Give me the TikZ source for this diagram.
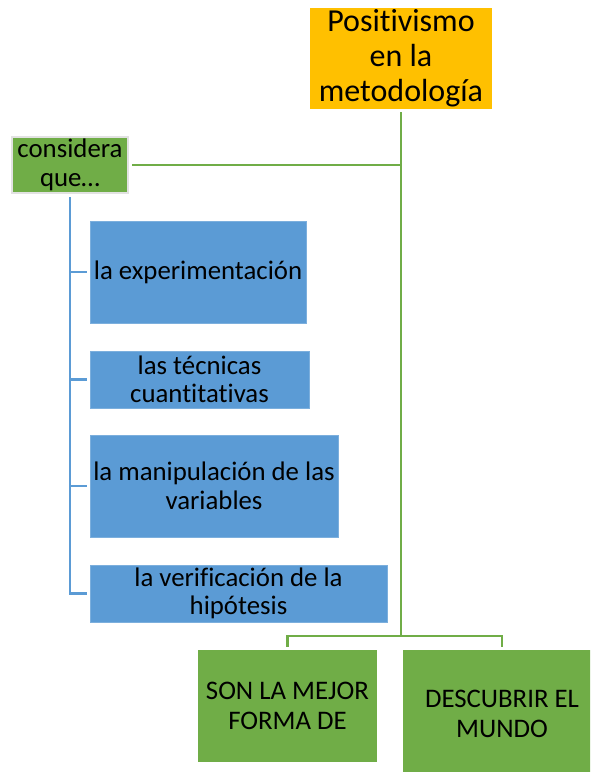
\documentclass[tikz,border=0pt]{standalone}
\usepackage{fontspec}
\setmainfont{Carlito}[Ligatures=NoCommon]
\usetikzlibrary{positioning,calc}
\definecolor{toporange}{HTML}{FFC000}
\definecolor{leafgreen}{HTML}{70AD47}
\definecolor{itemblue}{HTML}{5B9BD5}
\definecolor{edgegray}{HTML}{E2E2E2}

\tikzset{
  box/.style={rectangle, inner sep=0pt, align=center, text=black},
  topbox/.style={box, fill=toporange, font=\fontsize{32}{35}\selectfont},
  greenbox/.style={box, fill=leafgreen, font=\fontsize{26.8}{29.5}\selectfont},
  bluebox/.style={box, fill=itemblue, draw=itemblue!80!white, line width=0.8pt, font=\fontsize{26.8}{28.5}\selectfont},
  greenline/.style={draw=leafgreen, line width=2.8pt},
  blueline/.style={draw=itemblue, line width=2.8pt}
}

\begin{document}
\begin{tikzpicture}[x=1pt,y=-1pt]
        \useasboundingbox (0,0) rectangle (590,772);
        \clip (0,0) rectangle (590,772);

        % Top
        \node[topbox, minimum width=182pt, minimum height=101pt] (top) at (401,58.5) {Positivismo\\en la\\metodología};

        % Considera
        \node[greenbox, draw=edgegray, line width=2pt, minimum width=116pt, minimum height=56pt] (considera) at (70,165) {considera\\que…};

        % Items
        \node[bluebox, minimum width=216pt, minimum height=102pt] (exp) at (198,272) {la experimentación};
        \node[bluebox, minimum width=219pt, minimum height=57pt] (tec) at (199.5,379.5) {las técnicas\\cuantitativas};
        \node[bluebox, minimum width=248pt, minimum height=102pt] (man) at (214,486) {la manipulación de las\\variables};
        \node[bluebox, minimum width=297pt, minimum height=57pt] (ver) at (238.5,593.5) {la verificación de la\\hipótesis};

        % Bottom
        \node[greenbox, minimum width=179pt, minimum height=112pt] (mejor) at (287.5,706) {SON LA MEJOR\\FORMA DE};
        \node[greenbox, minimum width=198pt, minimum height=128pt] (mundo) at (502,714) {DESCUBRIR EL\\MUNDO};

        % Lines
        \coordinate (fork) at (401,636);
        \draw[greenline] ([yshift=-3pt]top.south) -- (fork);
        \draw[greenline, shorten <=3pt] (considera.east) -- (considera.east -| top.south);
        \draw[greenline, shorten <=3pt, shorten >=3pt] (mejor.north) |- (fork) -| (mundo.north);

        \draw[blueline, shorten <=3pt, shorten >=3pt] (considera.south) |- (ver.west);
        \foreach \item in {exp,tec,man}
          \draw[blueline, shorten >=3pt] (considera.south |- \item.west) -- (\item.west);

      \end{tikzpicture}
\end{document}
